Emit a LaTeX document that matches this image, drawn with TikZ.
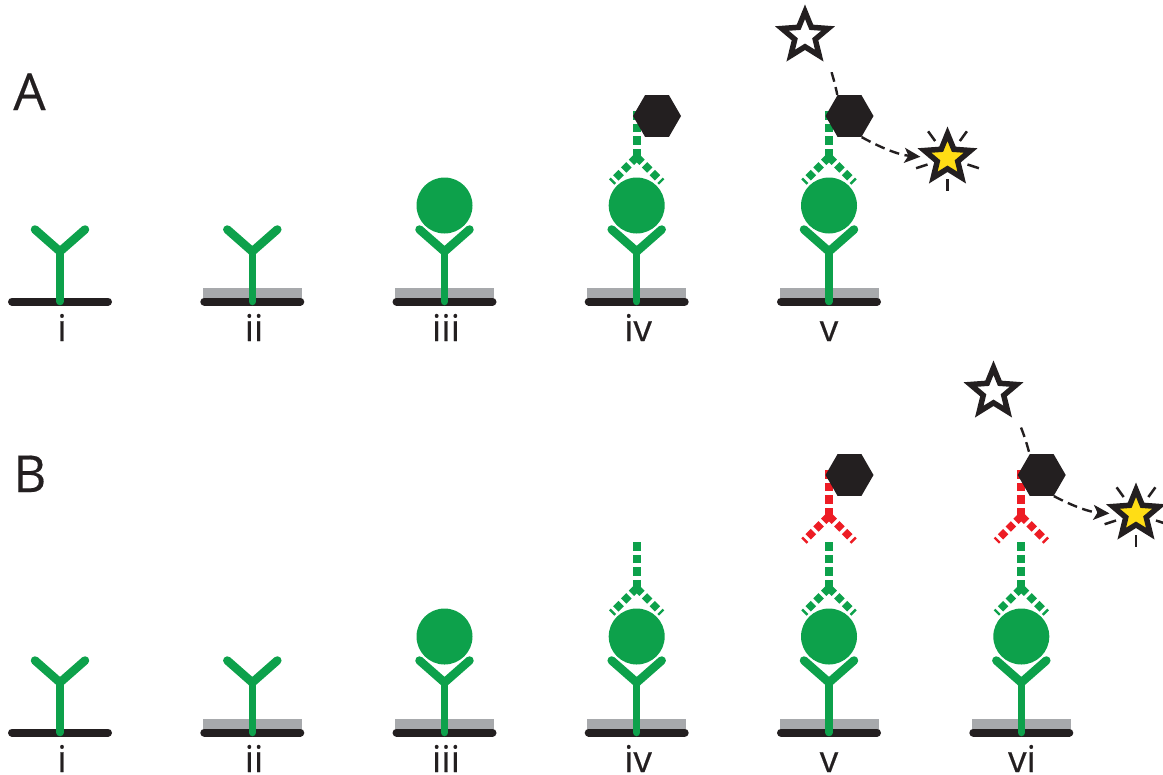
\documentclass[tikz,border=0pt]{standalone}
\usepackage{fontspec}
\setmainfont[FakeBold=0.3]{Open Sans}
\usetikzlibrary{arrows.meta, positioning, shapes.geometric, calc}
\definecolor{cgreen}{HTML}{0DA14B}
\definecolor{cred}{HTML}{ED1C24}
\definecolor{cblack}{HTML}{231F20}
\definecolor{cgrey}{HTML}{A7A9AC}
\definecolor{cyellow}{HTML}{FFDD15}
\tikzset{
  tag/.style={font=\fontsize{21}{21}\selectfont, text=cblack, anchor=base, inner sep=0pt},
  panel/.style={font=\fontsize{29}{29}\selectfont, text=cblack, anchor=base west, inner sep=0pt},
  hexa/.style={regular polygon, regular polygon sides=6, fill=cblack, minimum size=9.6mm, inner sep=0pt},
  starbox/.style={star, star points=5, star point ratio=2.25, draw=cblack, line width=1.1mm, minimum size=9.7mm, inner sep=0pt},
  dim/.style={starbox, fill=white},
  lit/.style={starbox, fill=cyellow},
  link/.style={draw=cblack, line width=0.48mm, dash pattern=on 2mm off 1.1mm},
  linkto/.style={link, -{Stealth[length=3.2mm, width=3mm, inset=0.8mm]}},
  ydash/.style={draw=#1, line width=1.6mm, dash pattern=on 1.7mm off 0.8mm},
  yarm/.style={draw=#1, line width=1.5mm, dash pattern=on 1.5mm off 0.7mm},
  base/.style={draw=cblack, line width=1.6mm, line cap=round},
  % column parts, drawn around the foot of each stem
  bare/.pic={\draw[base] (-48,0) -- (48,0);},
  coat/.pic={\fill[cgrey] (-49.5,-14) rectangle (49.5,0);
    \draw[base] (-48,0) -- (48,0);},
  capture/.pic={\draw[draw=cgreen, line width=1.5mm, line cap=round] (0,0) -- (0,-50);
    \draw[draw=cgreen, line width=1.7mm, line cap=round, line join=miter] (-25,-72) -- (0,-50) -- (25,-72);},
  antigen/.pic={\fill[cgreen] (0,-96) circle (28);},
  detect/.pic={\draw[ydash=#1] (0,0) -- (0,-48);
    \draw[yarm=#1] (0,0) -- (-25,25);
    \draw[yarm=#1] (0,0) -- (25,25);},
  burst/.pic={\foreach \a in {-54,-126,-198,-270,-342}
    \draw[draw=cblack, line width=0.5mm] (\a:21) -- (\a:33);},
}

\begin{document}
\begin{tikzpicture}[x=0.2mm, y=-0.2mm]
  \useasboundingbox (0,0) rectangle (1163,774);
  \node[panel] (la) at (13,110) {A};
  \node[panel] (lb) at (13,492) {B};

  % upper row
  \pic at (60,301.5) {bare};
  \pic at (60,301.5) {capture};
  \node[tag] (a1) at (62,341) {i};
  \pic at (252.3,301.5) {coat};
  \pic at (252.3,301.5) {capture};
  \node[tag] (a2) at (254,341) {ii};
  \pic at (444.5,301.5) {coat};
  \pic at (444.5,301.5) {capture};
  \pic at (444.5,301.5) {antigen};
  \node[tag] (a3) at (446,341) {iii};
  \pic at (636.7,301.5) {coat};
  \pic at (636.7,301.5) {capture};
  \pic at (636.7,301.5) {antigen};
  \pic at (636.7,157) {detect=cgreen};
  \node[hexa] (ha4) at (657,116) {};
  \node[tag] (a4) at (638,341) {iv};
  \pic at (829,301.5) {coat};
  \pic at (829,301.5) {capture};
  \pic at (829,301.5) {antigen};
  \pic at (829,157) {detect=cgreen};
  \node[hexa] (ha5) at (849.5,116) {};
  \node[dim] (sa) at (805,36) {};
  \pic at (947.5,158) {burst};
  \node[lit] (ga) at (947.5,158) {};
  \draw[link, shorten <=3.6mm] (sa.-50) to[bend left=10] (ha5.120);
  \draw[linkto, shorten >=1.6mm] (ha5.-60) to[bend right=12] (ga);
  \node[tag] (a5) at (829,341) {v};

  % lower row
  \pic at (60,732.5) {bare};
  \pic at (60,732.5) {capture};
  \node[tag] (b1) at (62,772) {i};
  \pic at (252.3,732.5) {coat};
  \pic at (252.3,732.5) {capture};
  \node[tag] (b2) at (254,772) {ii};
  \pic at (444.5,732.5) {coat};
  \pic at (444.5,732.5) {capture};
  \pic at (444.5,732.5) {antigen};
  \node[tag] (b3) at (446,772) {iii};
  \pic at (636.7,732.5) {coat};
  \pic at (636.7,732.5) {capture};
  \pic at (636.7,732.5) {antigen};
  \pic at (636.7,588) {detect=cgreen};
  \node[tag] (b4) at (638,772) {iv};
  \pic at (829,732.5) {coat};
  \pic at (829,732.5) {capture};
  \pic at (829,732.5) {antigen};
  \pic at (829,588) {detect=cgreen};
  \pic at (829,516) {detect=cred};
  \node[hexa] (hb5) at (849.5,475) {};
  \node[tag] (b5) at (829,772) {v};
  \pic at (1021.3,732.5) {coat};
  \pic at (1021.3,732.5) {capture};
  \pic at (1021.3,732.5) {antigen};
  \pic at (1021.3,588) {detect=cgreen};
  \pic at (1021.3,516) {detect=cred};
  \node[hexa] (hb6) at (1041.7,475) {};
  \node[dim] (sb) at (993.5,392) {};
  \pic at (1136,514) {burst};
  \node[lit] (gb) at (1136,514) {};
  \draw[link, shorten <=3.6mm] (sb.-50) to[bend left=10] (hb6.120);
  \draw[linkto, shorten >=1.6mm] (hb6.-60) to[bend right=12] (gb);
  \node[tag] (b6) at (1022,772) {vi};
\end{tikzpicture}
\end{document}
